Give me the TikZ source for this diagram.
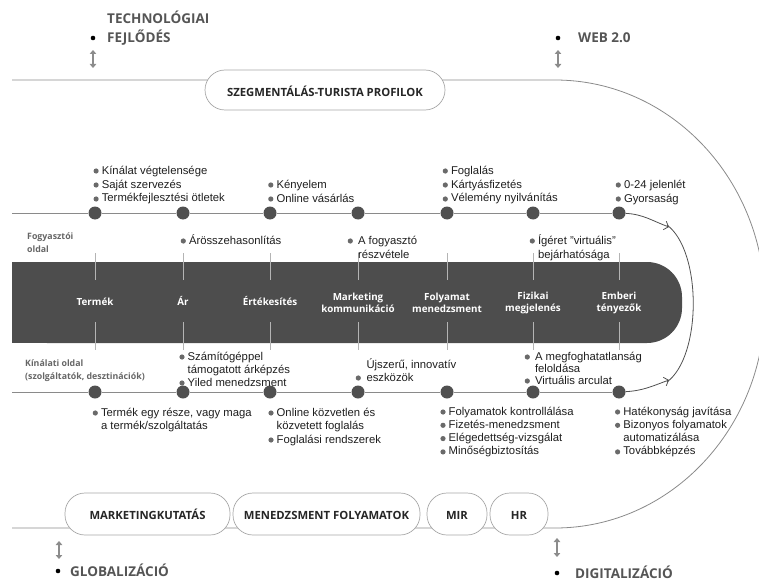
\documentclass[tikz,border=0pt]{standalone}
\usepackage{fontspec}
\setmainfont{Liberation Sans}
\newfontfamily\pts{Open Sans}
\usetikzlibrary{arrows.meta}
\definecolor{bandc}{HTML}{4D4D4D}
\definecolor{dotc}{HTML}{505050}
\definecolor{linec}{HTML}{8A8A8A}
\definecolor{tickc}{HTML}{B4B4B4}
\definecolor{headc}{HTML}{555555}
\definecolor{pillc}{HTML}{A8A8A8}
\definecolor{pilltxt}{HTML}{262626}
\definecolor{bulc}{HTML}{6A6A6A}
\definecolor{labc}{HTML}{666666}
\definecolor{txtc}{HTML}{1E1E1E}
\definecolor{arrc}{HTML}{8C8C8C}
\newcommand\bt{\makebox[8.3pt][l]{\tikz[baseline=-3pt]\fill[bulc] (2.5pt,0pt) circle (2.6pt);}}
\newcommand\ind{\hspace*{8.3pt}}
\newcommand\mystack[2]{\vtop{\baselineskip=#1pt\lineskiplimit=-20pt\relax #2}}
\begin{document}
\begin{tikzpicture}[x=1pt,y=-1pt,
 bul/.style={inner sep=0pt, anchor=base west, text=txtc, font=\fontsize{11.3}{13.5}\selectfont},
 rowdot/.style={circle, fill=dotc, inner sep=0pt, minimum size=13pt},
 pill/.style={draw=pillc, line width=0.7pt, fill=white, rounded corners=20pt, inner sep=0pt, text height=10pt, text depth=0pt, font=\pts\bfseries\fontsize{11.3}{12}\selectfont, text=pilltxt},
 heading/.style={inner sep=0pt, anchor=base west, text=headc, font=\pts\bfseries\fontsize{13.5}{14}\selectfont},
 bandlab/.style={text=white, align=center, font=\pts\bfseries\fontsize{9.8}{12}\selectfont, inner sep=0pt},
 bandone/.style={bandlab, text height=7.2pt, text depth=0pt},
 sidelab/.style={inner sep=0pt, anchor=base west, text=labc, font=\pts\bfseries\fontsize{8.8}{13}\selectfont},
 rowline/.style={draw=linec, line width=0.8pt},
 tickline/.style={draw=tickc, line width=0.8pt},
 dblarrow/.style={draw=arrc, line width=2pt, {Triangle[length=4pt,width=6.5pt]}-{Triangle[length=4pt,width=6.5pt]}},
 flowarrow/.style={draw=dotc, line width=0.8pt, -{Straight Barb[length=4pt,width=9pt]}},
 hbullet/.style={circle, fill=black, inner sep=0pt, minimum size=4.6pt}
]
\useasboundingbox (0,0) rectangle (759,580);
% outer frame line with big arc
\coordinate (topL) at (12,80);
\coordinate (botL) at (12,528);
\draw[rowline] (topL) -- (555,80) .. controls (671,80) and (765,180.3) .. (765,304) .. controls (765,427.7) and (671,528) .. (555,528) -- (botL);
% pills
\node[pill, text height=13pt, minimum width=240pt, minimum height=40pt] (seg) at (325,90) {SZEGMENTÁLÁS-TURISTA PROFILOK};
\node[pill, minimum width=165pt, minimum height=42pt] (mk) at (147.5,514) {MARKETINGKUTATÁS};
\node[pill, minimum width=187pt, minimum height=42pt] (mf) at (326.5,514) {MENEDZSMENT FOLYAMATOK};
\node[pill, minimum width=60pt, minimum height=42pt] (mir) at (457,514) {MIR};
\node[pill, minimum width=58pt, minimum height=42pt] (hr) at (519,514) {HR};
% headings
\node[hbullet] (b1) at (93,38) {};
\node[heading] (t1) at (107,24) {TECHNOLÓGIAI};
\node[heading] (t2) at (107,43) {FEJLŐDÉS};
\node[hbullet] (b2) at (558,38) {};
\node[heading] (t3) at (578,43) {WEB 2.0};
\node[hbullet] (b3) at (58,571) {};
\node[heading] (t4) at (70,576) {GLOBALIZÁCIÓ};
\node[hbullet] (b4) at (557,573) {};
\node[heading] (t5) at (575,578) {DIGITALIZÁCIÓ};
\coordinate (a1t) at (93,50); \coordinate (a1b) at (93,68);
\coordinate (a2t) at (558,50); \coordinate (a2b) at (558,68);
\coordinate (a3t) at (59,541); \coordinate (a3b) at (59,559);
\coordinate (a4t) at (557,538); \coordinate (a4b) at (557,557);
\draw[dblarrow] (a1t) -- (a1b);
\draw[dblarrow] (a2t) -- (a2b);
\draw[dblarrow] (a3t) -- (a3b);
\draw[dblarrow] (a4t) -- (a4b);
% band
\fill[bandc, rounded corners=35pt] (12,262) rectangle (682,343);
\fill[bandc] (12,262) rectangle (100,343);
\foreach \x in {95,183,270,358,447,533,619}{
  \draw[tickline] (\x,253) -- (\x,280);
  \draw[tickline] (\x,322) -- (\x,350);
}
\node[bandone] (p1) at (95,302) {Termék};
\node[bandone] (p2) at (183,302) {Ár};
\node[bandone] (p3) at (270,302) {Értékesítés};
\node[bandlab] (p4) at (358,303) {Marketing\\kommunikáció};
\node[bandlab] (p5) at (447,303) {Folyamat\\menedzsment};
\node[bandlab] (p6) at (533,303) {Fizikai\\megjelenés};
\node[bandlab] (p7) at (619,303) {Emberi\\tényezők};
% rows
\coordinate (uS) at (12,213);
\coordinate (lS) at (12,392);
\foreach \i/\x in {1/95,2/183,3/270,4/358,5/447,6/533,7/619}{
  \node[rowdot] (u\i) at (\x,213) {};
  \node[rowdot] (l\i) at (\x,392) {};
}
\draw[rowline] (uS) -- (u1) -- (u2) -- (u3) -- (u4) -- (u5) -- (u6) -- (u7);
\draw[rowline] (lS) -- (l1) -- (l2) -- (l3) -- (l4) -- (l5) -- (l6) -- (l7);
% return arc and arrows
\coordinate (sa) at (669,227);
\coordinate (sb) at (669,380);
\draw[dotc, line width=0.8pt] (667,225) .. controls (702,251) and (702,356) .. (667,382);
\draw[flowarrow] (u7) to[out=-3,in=160] (sa);
\draw[flowarrow] (l7) to[out=3,in=200] (sb);
% side labels
\node[sidelab] (fo) at (27,239) {\mystack{13}{\hbox{Fogyasztói}\hbox{oldal}}};
\node[sidelab] (ki) at (25,366) {\mystack{13}{\hbox{Kínálati oldal}\hbox{(szolgáltatók, desztinációk)}}};
% upper bullet groups
\node[bul] (g1) at (93.3,174) {\mystack{14}{\hbox{\bt Kínálat végtelensége}\hbox{\bt Saját szervezés}\hbox{\bt Termékfejlesztési ötletek}}};
\node[bul] (g3) at (268,188) {\mystack{14}{\hbox{\bt Kényelem}\hbox{\bt Online vásárlás}}};
\node[bul] (g5) at (442.5,174) {\mystack{14}{\hbox{\bt Foglalás}\hbox{\bt Kártyásfizetés}\hbox{\bt Vélemény nyilvánítás}}};
\node[bul] (g7) at (615.5,188) {\mystack{14}{\hbox{\bt 0-24 jelenlét}\hbox{\bt Gyorsaság}}};
\node[bul] (g2) at (180.5,244) {\mystack{14}{\hbox{\bt Árösszehasonlítás}}};
\node[bul] (g4) at (347.5,244) {\mystack{14}{\hbox{\bt\hspace{2pt}A fogyasztó}\hbox{\ind\hspace{2pt}részvétele}}};
\node[bul] (g6) at (529.5,244) {\mystack{14}{\hbox{\bt Ígéret "virtuális"}\hbox{\ind bejárhatósága}}};
% lower bullet groups
\node[bul] (h2) at (179.2,360) {\mystack{13}{\hbox{\bt Számítógéppel}\hbox{\ind támogatott árképzés}\hbox{\bt Yiled menedzsment}}};
\node[bul] (h4) at (355.5,368) {\mystack{13}{\hbox{\ind\hspace{2.5pt}Újszerű, innovatív}\hbox{\bt\hspace{2.5pt}eszközök}}};
\node[bul] (h6) at (524.5,360) {\mystack{12}{\hbox{\bt\hspace{2pt}A megfoghatatlanság}\hbox{\ind\hspace{2pt}feloldása}\hbox{\bt\hspace{2pt}Virtuális arculat}}};
\node[bul] (h1) at (92.5,416) {\mystack{13}{\hbox{\bt Termék egy része, vagy maga}\hbox{\ind a termék/szolgáltatás}}};
\node[bul] (h3) at (268.2,416) {\mystack{13.5}{\hbox{\bt Online közvetlen és}\hbox{\ind közvetett foglalás}\hbox{\bt Foglalási rendszerek}}};
\node[bul] (h5) at (440.2,415) {\mystack{13.3}{\hbox{\bt Folyamatok kontrollálása}\hbox{\bt Fizetés-menedzsment}\hbox{\bt Elégedettség-vizsgálat}\hbox{\bt Minőségbiztosítás}}};
\node[bul] (h7) at (614.8,415) {\mystack{13.3}{\hbox{\bt Hatékonyság javítása}\hbox{\bt Bizonyos folyamatok}\hbox{\ind automatizálása}\hbox{\bt Továbbképzés}}};
\end{tikzpicture}
\end{document}
